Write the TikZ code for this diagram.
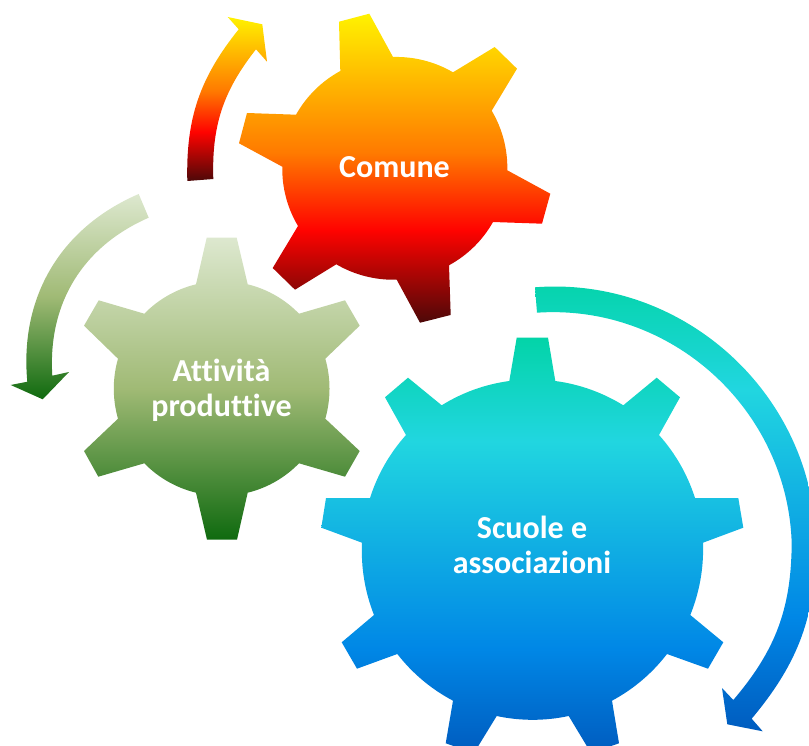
\documentclass[tikz,border=0pt]{standalone}
\usepackage{fontspec}
\setmainfont{Carlito}[Ligatures=NoCommon]
\definecolor{fireA}{HTML}{FFF200}
\definecolor{fireB}{HTML}{FF7A00}
\definecolor{fireC}{HTML}{FF0300}
\definecolor{fireD}{HTML}{4D0808}
\definecolor{oceanA}{HTML}{03D4A8}
\definecolor{oceanB}{HTML}{21D6E0}
\definecolor{oceanC}{HTML}{0087E6}
\definecolor{oceanD}{HTML}{005CBF}
\definecolor{leafA}{HTML}{DDE8CF}
\definecolor{leafB}{HTML}{A0BA75}
\definecolor{leafC}{HTML}{0F6A0F}
\pgfdeclareverticalshading{fireshade}{100bp}{color(0bp)=(fireD); color(25bp)=(fireD); color(40bp)=(fireC); color(52.5bp)=(fireB); color(75bp)=(fireA); color(100bp)=(fireA)}
\pgfdeclareverticalshading{oceanshade}{100bp}{color(0bp)=(oceanD); color(25bp)=(oceanD); color(37.5bp)=(oceanC); color(62.5bp)=(oceanB); color(75bp)=(oceanA); color(100bp)=(oceanA)}
\pgfdeclareverticalshading{leafshade}{100bp}{color(0bp)=(leafC); color(25bp)=(leafC); color(50bp)=(leafB); color(75bp)=(leafA); color(100bp)=(leafA)}
\tikzset{
  rimA/.style={bend left=16,looseness=.87},
  rimB/.style={bend left=12,looseness=.87},
  gearlabel/.style={text=white,font=\fontsize{32}{35}\selectfont\bfseries,align=center,inner sep=0pt}
}
\begin{document}
\begin{tikzpicture}[x=1pt,y=-1pt]
\useasboundingbox (0,0) rectangle (809,746);
\clip (0,0) rectangle (809,746);
% Comune gear
\shade[shading=fireshade] (339,21.7) -- (369.3,13.7) -- (393,57) to[rimA] (453,72.3) -- (494.7,47) -- (517,68.7) -- (491.7,110.7)
  to[rimA] (507.3,170.3) -- (550.3,193.7) -- (542,223.7) -- (493,222)
  to[rimA] (449,265.3) -- (450.7,315) -- (420,322.7) -- (396.7,279.7)
  to[rimA] (336.3,264.3) -- (295,289.7) -- (272.7,268) -- (298,226)
  to[rimA] (282.3,166.7) -- (239,143.3) -- (247,113) -- (296,114.7)
  to[rimA] (340.3,71) -- cycle;
% red arrow
\shade[shading=fireshade] (187.3,181) to[bend left=20] (238.7,29.3) -- (227.7,17) -- (262.3,24.3) -- (267,61.7) -- (256,49.3)
  to[bend right=20] (213.3,179) -- cycle;
% Attivita gear
\shade[shading=leafshade] (206.7,237.7) -- (236.7,237.7) -- (247.7,284.3) to[rimA] (299,313.7) -- (345,300.3) -- (359.7,325.7) -- (325.3,358.7)
  to[rimA] (325.3,418.7) -- (359.7,451) -- (345,476.7) -- (299,463.3)
  to[rimA] (247.7,492.7) -- (237,539.7) -- (207,539.7) -- (196,492.7)
  to[rimA] (144.3,463.3) -- (98.3,476.7) -- (84,451) -- (118,418.7)
  to[rimA] (118,358.7) -- (84,325.7) -- (98.7,300.3) -- (144.3,313.7)
  to[rimA] (196,284.3) -- cycle;
% green arrow
\shade[shading=leafshade] (138.7,194) -- (148.7,217.7) to[bend right=35] (52.3,375.7) -- (69,372) -- (42.7,399.3) -- (10.7,385) -- (27.3,381.7)
  to[bend left=36] (138.7,194) -- cycle;
% Scuole gear
\shade[shading=oceanshade] (516.7,337.7) -- (548,337.7) -- (555.3,381) to[rimB] (623.3,405.3) -- (656.7,377.7) -- (680,397.3) -- (659,435)
  to[rimB] (695,498) -- (738.3,498) -- (743.3,527.7) -- (703,542.7)
  to[rimB] (690.3,615) -- (723.3,642.3) -- (708,668.7) -- (667,654)
  to[rimB] (612,700.7) -- (619,743.3) -- (591,753) -- (568.7,716)
  to[rimB] (496.7,716) -- (474,753) -- (445.7,743.3) -- (453,700.7)
  to[rimB] (397.3,654) -- (357,668.7) -- (341.7,642.3) -- (374,615)
  to[rimB] (362,542.7) -- (321.3,527.7) -- (326,498) -- (370,498)
  to[rimB] (406,435) -- (385,397.3) -- (408,377.7) -- (441.7,405.3)
  to[rimB] (509.3,381) -- cycle;
% blue arrow
\shade[shading=oceanshade] (535,287.3) to[bend left=46.5] (816,541) to[bend left=20] (751.7,718.7) -- (762.7,731.3) -- (727.3,724.3) -- (722,688) -- (733.3,700)
  to[bend right=20] (791.7,543) to[bend right=46] (537,312.7) -- cycle;
% labels
\node[gearlabel] (comune) at (394.5,167.5) {Comune};
\node[gearlabel] (attivita) at (221.5,390) {Attività\\produttive};
\node[gearlabel] (scuole) at (532,545) {Scuole e\\associazioni};
\end{tikzpicture}
\end{document}
